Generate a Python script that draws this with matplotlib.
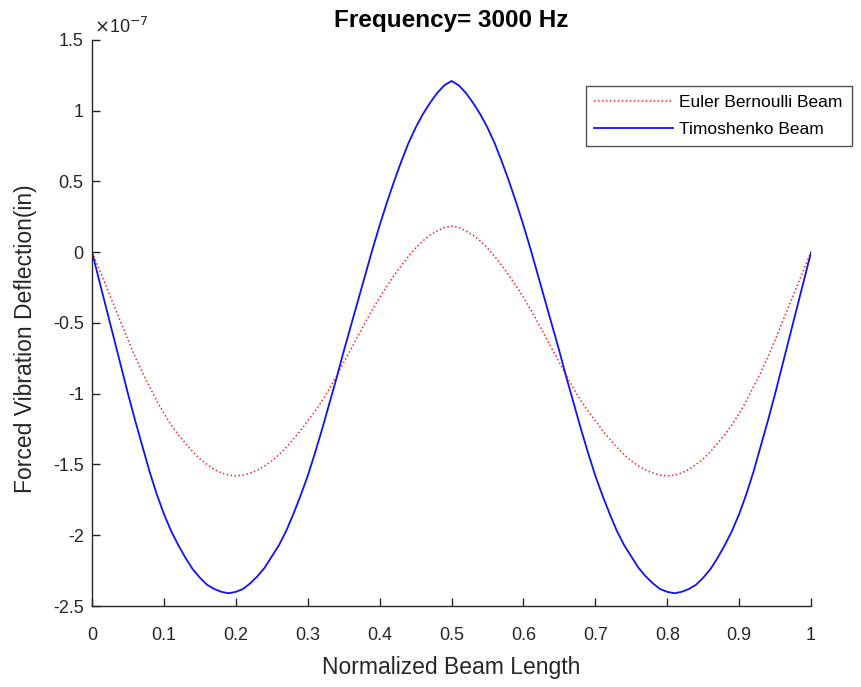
import matplotlib
matplotlib.use("Agg")
import matplotlib.pyplot as plt
import numpy as np
from matplotlib.ticker import FuncFormatter

plt.rcParams['font.family'] = ['Liberation Sans', 'DejaVu Sans']

# normalized beam position, sampled every 0.01
beam_x = np.linspace(0, 1, 101)

# deflection values, in units of 1e-7 in
euler = [0.0, -0.12, -0.245, -0.37, -0.495, -0.62, -0.74, -0.85, -0.95, -1.05,
         -1.14, -1.22, -1.29, -1.35, -1.41, -1.46, -1.50, -1.535, -1.56, -1.575,
         -1.58, -1.575, -1.56, -1.54, -1.51, -1.475, -1.43, -1.38, -1.32, -1.26,
         -1.19, -1.125, -1.05, -0.965, -0.875, -0.78, -0.685, -0.59, -0.495, -0.405,
         -0.32, -0.24, -0.165, -0.095, -0.03, 0.03, 0.08, 0.12, 0.15, 0.175,
         0.185,
         0.175, 0.15, 0.12, 0.08, 0.03, -0.03, -0.095, -0.165, -0.24, -0.32,
         -0.405, -0.495, -0.59, -0.685, -0.78, -0.875, -0.965, -1.05, -1.125, -1.19,
         -1.26, -1.32, -1.38, -1.43, -1.475, -1.51, -1.54, -1.56, -1.575, -1.58,
         -1.575, -1.56, -1.535, -1.50, -1.46, -1.41, -1.35, -1.29, -1.22, -1.14,
         -1.05, -0.95, -0.85, -0.74, -0.62, -0.495, -0.37, -0.245, -0.12, 0.0]

timoshenko = [0.0, -0.20, -0.40, -0.60, -0.80, -1.00, -1.19, -1.37, -1.55, -1.71,
              -1.85, -1.97, -2.07, -2.16, -2.24, -2.30, -2.35, -2.38, -2.40, -2.41,
              -2.40, -2.38, -2.34, -2.29, -2.23, -2.15, -2.07, -1.97, -1.85, -1.72,
              -1.58, -1.42, -1.25, -1.07, -0.89, -0.70, -0.52, -0.34, -0.16, 0.02,
              0.19, 0.35, 0.50, 0.64, 0.77, 0.88, 0.975, 1.055, 1.125, 1.18,
              1.21,
              1.18, 1.125, 1.055, 0.975, 0.88, 0.77, 0.64, 0.50, 0.35, 0.19,
              0.02, -0.16, -0.34, -0.52, -0.70, -0.89, -1.07, -1.25, -1.42, -1.58,
              -1.72, -1.85, -1.97, -2.07, -2.15, -2.23, -2.29, -2.34, -2.38, -2.40,
              -2.41, -2.40, -2.38, -2.35, -2.30, -2.24, -2.16, -2.07, -1.97, -1.85,
              -1.71, -1.55, -1.37, -1.19, -1.00, -0.80, -0.60, -0.40, -0.20, 0.0]

x_ticks = [0, 0.1, 0.2, 0.3, 0.4, 0.5, 0.6, 0.7, 0.8, 0.9, 1]
y_ticks = [-2.5, -2, -1.5, -1, -0.5, 0, 0.5, 1, 1.5]

axis_col = '#262626'

fig = plt.figure(figsize=(8.61, 6.87), dpi=100)
ax = fig.add_axes([0.1069, 0.1179, 0.8351, 0.8239])

ax.plot(beam_x, euler, linestyle=(0, (1, 1.6)), color='#ff2020', linewidth=1.1,
        label='Euler Bernoulli Beam')
ax.plot(beam_x, timoshenko, linestyle='-', color='#1010ff', linewidth=1.3,
        label='Timoshenko Beam')

ax.set_xlim(0, 1)
ax.set_ylim(-2.5, 1.5)
ax.set_xticks(x_ticks)
ax.set_yticks(y_ticks)
fmt = FuncFormatter(lambda v, p: '%g' % v)
ax.xaxis.set_major_formatter(fmt)
ax.yaxis.set_major_formatter(fmt)

ax.spines['top'].set_visible(False)
ax.spines['right'].set_visible(False)
for s in ['left', 'bottom']:
    ax.spines[s].set_color(axis_col)
    ax.spines[s].set_linewidth(1.0)
ax.tick_params(direction='in', length=6, width=1.0, colors=axis_col,
               labelsize=13)
ax.tick_params(axis='x', pad=15)
ax.tick_params(axis='y', pad=6)

ax.set_xlabel('Normalized Beam Length', fontsize=16.5, color=axis_col, labelpad=9)
ax.set_ylabel('Forced Vibration Deflection(in)', fontsize=16.5, color=axis_col)
ax.yaxis.set_label_coords(-0.077, 0.472)
ax.set_title('Frequency= 3000 Hz', fontsize=17.5, fontweight='bold', pad=9)

ax.text(0.003, 1.006, r'$\times$10$^{-7}$', transform=ax.transAxes,
        fontsize=13, color=axis_col, ha='left', va='bottom')

leg = ax.legend(loc='upper right', bbox_to_anchor=(0.989, 0.875),
                bbox_transform=fig.transFigure, borderaxespad=0,
                fontsize=12.5, frameon=True, fancybox=False,
                handlelength=4.5, handletextpad=0.4,
                borderpad=0.5, labelspacing=0.7)
leg.get_frame().set_edgecolor(axis_col)
leg.get_frame().set_linewidth(1.0)

fig.savefig('out.png', dpi=100)
